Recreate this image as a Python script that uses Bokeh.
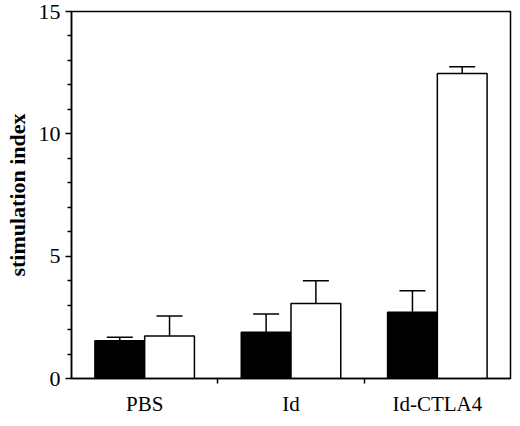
from bokeh.plotting import figure
from bokeh.models import ColumnDataSource, FixedTicker, Range1d, Whisker, TeeHead
from bokeh.embed import file_html
from bokeh.resources import INLINE

# groups and the two series (black = filled, white = open)
groups = ["PBS", "Id", "Id-CTLA4"]
black_mean = [1.54, 1.89, 2.71]
black_err = [0.15, 0.75, 0.88]
white_mean = [1.74, 3.07, 12.47]
white_err = [0.81, 0.93, 0.27]
y_ticks = [0, 5, 10, 15]

FONT = "Liberation Serif"
bar_w = 0.34
centers = [i + 0.5 for i in range(len(groups))]

black = ColumnDataSource(data=dict(
    x=[c - bar_w / 2 for c in centers],
    top=black_mean,
    upper=[m + e for m, e in zip(black_mean, black_err)],
))
white = ColumnDataSource(data=dict(
    x=[c + bar_w / 2 for c in centers],
    top=white_mean,
    upper=[m + e for m, e in zip(white_mean, white_err)],
))

p = figure(width=512, height=418, output_backend="svg", toolbar_location=None,
           x_range=Range1d(0, len(groups)), y_range=Range1d(0, 15),
           min_border_left=71, min_border_right=2, min_border_top=11, min_border_bottom=0)
p.grid.visible = False
p.outline_line_color = "black"
p.outline_line_width = 1.5
p.background_fill_color = "white"
p.border_fill_color = "white"

# error bars first so the bars sit over the lower part of the stem
for src in (black, white):
    p.add_layout(Whisker(source=src, base="x", lower="top", upper="upper",
                         line_color="black", line_width=1.5, lower_head=None,
                         upper_head=TeeHead(size=26, line_color="black", line_width=1.5)))

p.vbar(x="x", top="top", bottom=0, width=bar_w, source=black,
       fill_color="black", line_color="black", line_width=1.5)
p.vbar(x="x", top="top", bottom=0, width=bar_w, source=white,
       fill_color="white", line_color="black", line_width=1.5)

# y axis
p.yaxis.ticker = FixedTicker(ticks=y_ticks, minor_ticks=[v for v in range(16) if v % 5])
p.yaxis.axis_label = "stimulation index"
p.yaxis.axis_label_text_font = FONT
p.yaxis.axis_label_text_font_style = "bold"
p.yaxis.axis_label_text_font_size = "22px"
p.yaxis.axis_label_standoff = 6
p.yaxis.major_label_text_font = FONT
p.yaxis.major_label_text_font_size = "22px"
p.yaxis.major_label_standoff = 5
p.yaxis.major_tick_in = 0
p.yaxis.major_tick_out = 6
p.yaxis.minor_tick_in = 0
p.yaxis.minor_tick_out = 4

# x axis: labels at group centres, small ticks at group boundaries
p.xaxis.ticker = FixedTicker(ticks=centers, minor_ticks=list(range(1, len(groups))))
p.xaxis.major_label_overrides = {c: g for c, g in zip(centers, groups)}
p.xaxis.major_label_text_font = FONT
p.xaxis.major_label_text_font_size = "21px"
p.xaxis.major_label_standoff = 8
p.xaxis.major_tick_in = 0
p.xaxis.major_tick_out = 0
p.xaxis.minor_tick_in = 0
p.xaxis.minor_tick_out = 5

for ax in (p.xaxis, p.yaxis):
    ax.axis_line_color = "black"
    ax.axis_line_width = 1.5
    ax.major_tick_line_color = "black"
    ax.major_tick_line_width = 1.5
    ax.minor_tick_line_color = "black"
    ax.minor_tick_line_width = 1.5
    ax.major_label_text_color = "black"
    ax.axis_label_text_color = "black"

open("out.html", "w").write(file_html(p, INLINE))
